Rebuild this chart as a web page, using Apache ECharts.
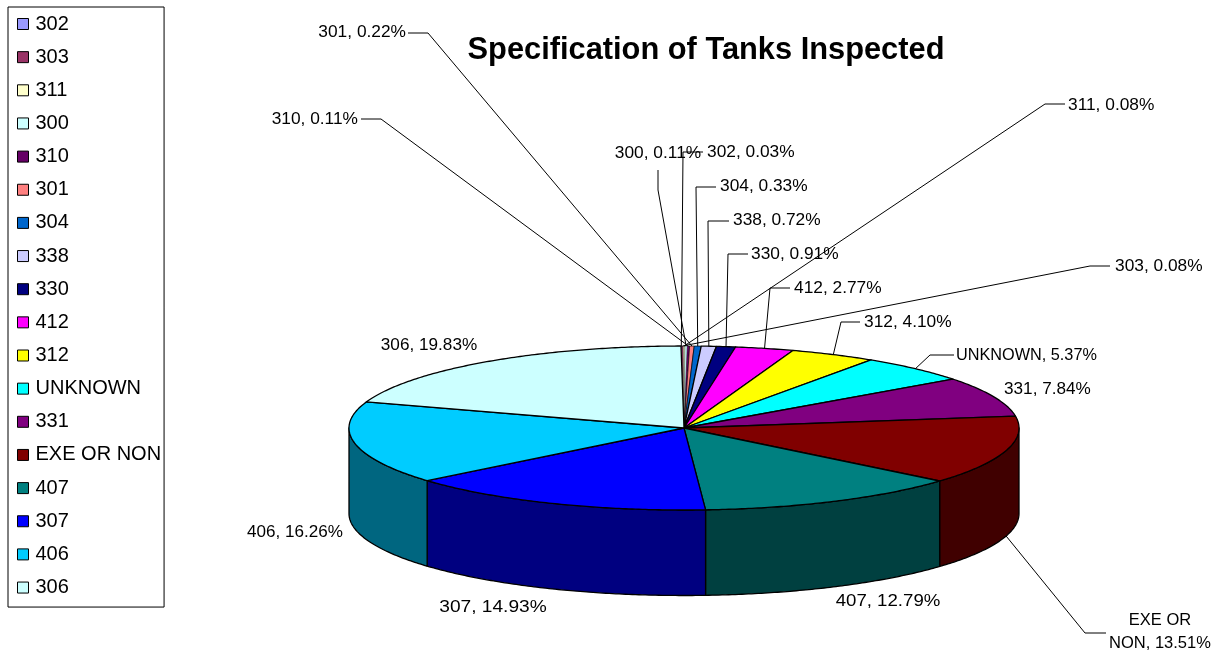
<!DOCTYPE html>
<html>
<head>
<meta charset="utf-8">
<style>html,body{margin:0;padding:0;background:#fff}#c{width:1215px;height:650px}</style>
<script src="https://cdn.jsdelivr.net/npm/echarts@6/dist/echarts.min.js"></script>
</head>
<body>
<div id="c"></div>
<script>
const categories = ['302','303','311','300','310','301','304','338','330','412','312','UNKNOWN','331','EXE OR NON','407','307','406','306'];
const shares = [0.03,0.08,0.08,0.11,0.11,0.22,0.33,0.72,0.91,2.77,4.10,5.37,7.84,13.51,12.79,14.93,16.26,19.83];
const colors = ['#9999FF','#993366','#FFFFCC','#CCFFFF','#660066','#FF8080','#0066CC','#CCCCFF','#000080','#FF00FF','#FFFF00','#00FFFF','#800080','#800000','#008080','#0000FF','#00CCFF','#CCFFFF'];
const titleText = 'Specification of Tanks Inspected';

// label placement: text anchor, alignment, horizontal stretch, and the elbow of the leader line
const labelLayout = {
  '302': {x:707,y:152,align:'left',sx:1.05,leader:[[703,152],[683,152]]},
  '303': {x:1115,y:266,align:'left',sx:1.05,leader:[[1110,266],[1090,266]]},
  '311': {x:1068,y:105,align:'left',sx:1.05,leader:[[1065,104],[1045,104]]},
  '300': {x:658,y:153,align:'center',sx:1.05,leader:[[658,170],[658,190]]},
  '310': {x:358,y:119,align:'right',sx:1.05,leader:[[361,119],[381,119]]},
  '301': {x:406,y:32,align:'right',sx:1.05,leader:[[408,33],[428,33]]},
  '304': {x:720,y:186,align:'left',sx:1.05,leader:[[716,187],[696,187]]},
  '338': {x:733,y:220,align:'left',sx:1.05,leader:[[729,221],[708,221]]},
  '330': {x:751,y:254,align:'left',sx:1.05,leader:[[748,254],[728,254]]},
  '412': {x:794,y:288,align:'left',sx:1.05,leader:[[790,288],[770,288]]},
  '312': {x:864,y:322,align:'left',sx:1.05,leader:[[860,322],[841,322]]},
  'UNKNOWN': {x:956,y:355,align:'left',sx:0.985,leader:[[954,355],[930,355]]},
  '331': {x:1004,y:389,align:'left',sx:1.04},
  'EXE OR NON': {x:1160,y:632,align:'center',sx:1,lines:['EXE OR','NON, '],leader:[[1106,633],[1085,633]],front:true},
  '407': {x:888,y:601,align:'center',sx:1.13},
  '307': {x:493,y:607,align:'center',sx:1.16},
  '406': {x:295,y:532,align:'center',sx:1.035},
  '306': {x:429,y:345,align:'center',sx:1.04}
};

const cx = 684, cy = 428, rx = 335, ry = 82, depth = 85.5;
const total = shares.reduce((a,b)=>a+b,0);
// the back of the 3-D disc is very slightly compressed, as in the source rendering
const warp = t => t - 0.009*Math.pow(Math.max(0,Math.cos(t)),8);
const rim = t => { const w = warp(t); return [cx + rx*Math.sin(w), cy - ry*Math.cos(w)]; };
const darken = hex => '#' + [1,3,5].map(i => Math.round(parseInt(hex.substr(i,2),16)/2).toString(16).padStart(2,'0')).join('');

function arc(a,b){
  const n = Math.max(2, Math.ceil((b-a)/0.01)), pts = [];
  for(let i=0;i<=n;i++) pts.push(rim(a+(b-a)*i/n));
  return pts;
}

function makeRender(idx){
  return function(params, api){
    const value = api.value(0);
    const before = shares.slice(0,idx).reduce((a,b)=>a+b,0);
    const a = before/total*2*Math.PI, b = (before+value)/total*2*Math.PI;
    const children = [];
    const stroke = {stroke:'#000',lineWidth:value<0.15?0.35:(value<0.4?0.7:1.3),lineJoin:'round'};
    // front wall: only the part of the rim facing the viewer (90deg..270deg)
    const wa = Math.max(a,Math.PI/2), wb = Math.min(b,Math.PI*1.5);
    if(wb>wa){
      const top = arc(wa,wb);
      const bottom = top.slice().reverse().map(p=>[p[0],p[1]+depth]);
      children.push({type:'polygon',shape:{points:top.concat(bottom)},
        style:Object.assign({fill:darken(colors[idx])},stroke)});
    }
    children.push({type:'polygon',shape:{points:[[cx,cy]].concat(arc(a,b))},
      style:Object.assign({fill:colors[idx]},stroke)});
    // label and leader line
    const name = categories[idx], lay = labelLayout[name];
    const pct = value.toFixed(2)+'%';
    const font = '16.5px "Liberation Sans", Arial, sans-serif';
    if(lay.leader){
      const m = (a+b)/2, p = rim(m);
      const end = lay.front ? [p[0],p[1]+depth] : p;
      children.push({type:'polyline',z2:20,shape:{points:lay.leader.concat([end])},
        style:{stroke:'#000',lineWidth:1,fill:null}});
    }
    const text = lay.lines ? lay.lines[0]+'\n'+lay.lines[1]+pct : name+', '+pct;
    children.push({type:'text',z2:30,x:lay.x,y:lay.y,scaleX:lay.sx,style:{text:text,font:font,fill:'#000',
      align:lay.align,verticalAlign:'middle',lineHeight:23}});
    return {type:'group',children:children};
  };
}

const chart = echarts.init(document.getElementById('c'));
chart.setOption({
  animation:false,
  backgroundColor:'#fff',
  title:{text:titleText,left:701,top:30,textAlign:'center',
    textStyle:{fontFamily:'"Liberation Sans", Arial, sans-serif',fontWeight:'bold',fontSize:30.8,color:'#000'}},
  legend:{
    show:true,orient:'vertical',left:8,top:7,selectedMode:false,
    data:categories,
    icon:'rect',itemWidth:11,itemHeight:11,itemGap:13.15,
    padding:[7,3,9.5,9],
    borderColor:'#000',borderWidth:1,backgroundColor:'#fff',
    itemStyle:{borderColor:'#000',borderWidth:1},
    textStyle:{fontFamily:'"Liberation Sans", Arial, sans-serif',fontSize:20,lineHeight:20,color:'#000',padding:[0,0,0,2]}
  },
  series:categories.map((name,i)=>({
    type:'custom',name:name,coordinateSystem:'none',
    itemStyle:{color:colors[i]},
    data:[[shares[i]]],
    renderItem:makeRender(i),
    silent:true
  }))
});
</script>
</body>
</html>
